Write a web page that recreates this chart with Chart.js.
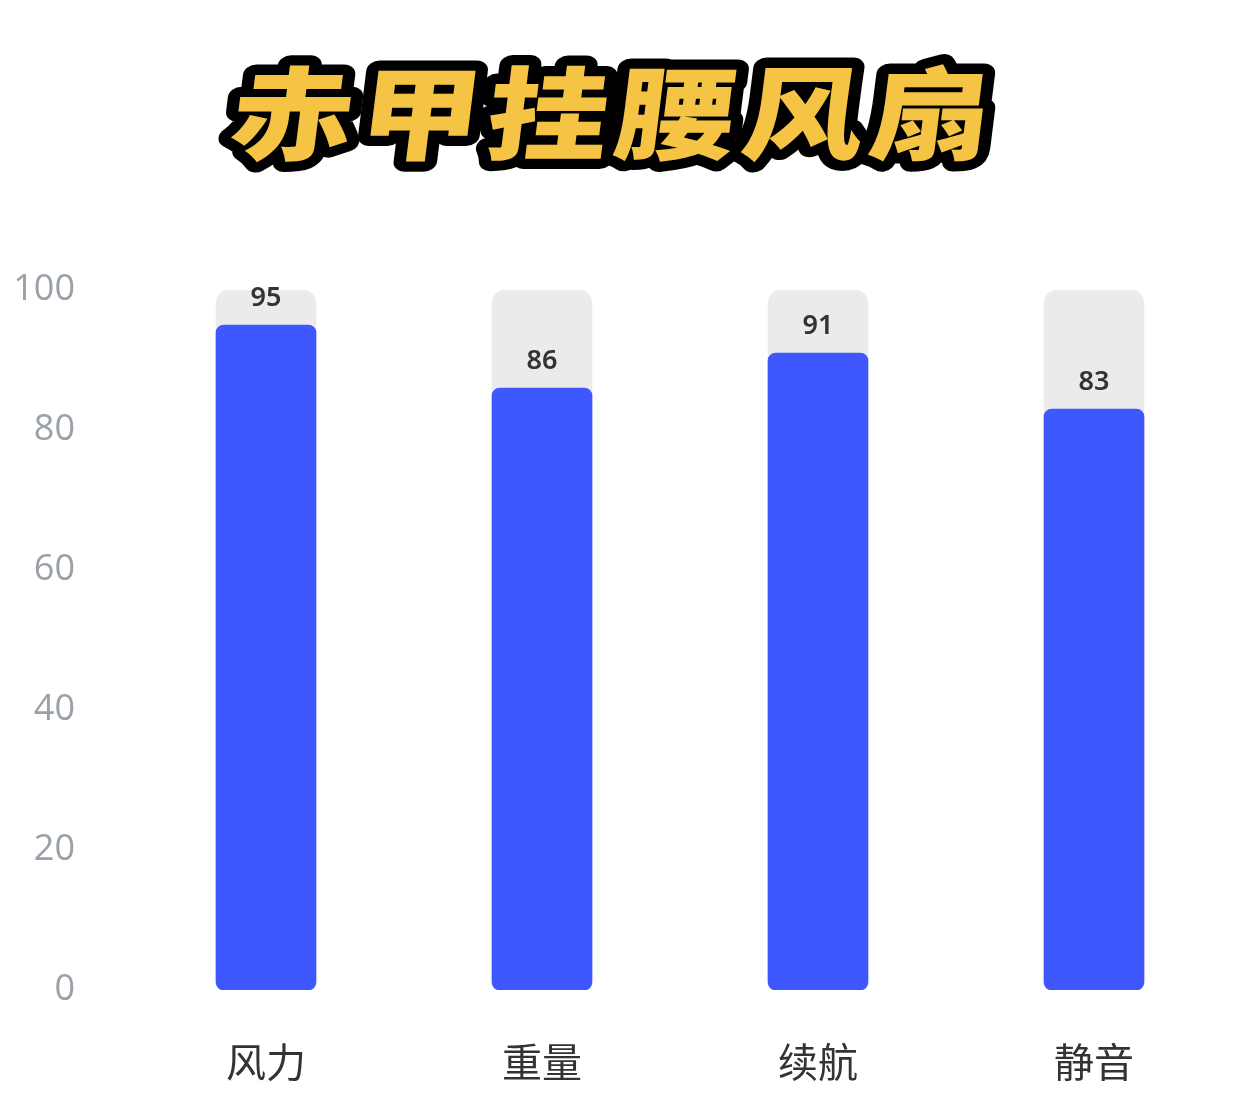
<!DOCTYPE html>
<html>
<head>
<meta charset="utf-8">
<script src="https://cdn.jsdelivr.net/npm/chart.js@4.4.0/dist/chart.umd.min.js"></script>
<style>
  html, body { margin: 0; padding: 0; background: #ffffff; }
  body { width: 1242px; height: 1095px; position: relative; overflow: hidden; }
  #title { position: absolute; left: 0; top: 0; width: 1242px; height: 200px; }
  #title text {
    font-family: "Noto Sans CJK SC", sans-serif; font-weight: 900; font-size: 118px;
    letter-spacing: 6px;
  }
  #wrap { position: absolute; left: 0; top: 0; width: 1242px; height: 1095px; }
</style>
</head>
<body>
<div id="wrap"><canvas id="c" width="1242" height="1095"></canvas></div>
<svg id="title" width="1242" height="200" xmlns="http://www.w3.org/2000/svg">
  <g transform="translate(615,118) scale(1.03,0.86) skewX(-6) translate(-610,-112)">
    <text x="610" y="152" text-anchor="middle" fill="#f6c445" stroke="#000" stroke-width="24"
          stroke-linejoin="round" paint-order="stroke fill">赤甲挂腰风扇</text>
  </g>
</svg>
<script>
const categories = ["风力", "重量", "续航", "静音"];
const scores = [95, 86, 91, 83];
const fullScores = [100, 100, 100, 100];
const yTicks = [0, 20, 40, 60, 80, 100];

const valueLabels = {
  id: "valueLabels",
  afterDatasetsDraw(chart) {
    const ctx = chart.ctx;
    const meta = chart.getDatasetMeta(0);
    ctx.save();
    ctx.font = "600 27px 'Noto Sans', 'Open Sans', sans-serif";
    ctx.fillStyle = "#333333";
    ctx.textAlign = "center";
    ctx.textBaseline = "middle";
    meta.data.forEach((bar, i) => {
      ctx.fillText(String(scores[i]), bar.x, bar.y - 27);
    });
    ctx.restore();
  }
};

new Chart(document.getElementById("c"), {
  type: "bar",
  data: {
    labels: categories,
    datasets: [
      {
        data: scores,
        backgroundColor: "#3f57fe",
        borderRadius: 8,
        borderSkipped: false,
        grouped: false,
        barThickness: 100,
        order: 0
      },
      {
        data: fullScores,
        backgroundColor: "#ebebeb",
        borderRadius: 14,
        borderSkipped: false,
        grouped: false,
        barThickness: 100,
        order: 1
      }
    ]
  },
  options: {
    responsive: false,
    animation: false,
    devicePixelRatio: 1,
    layout: { padding: { top: 290, right: 10, bottom: 0, left: 0 } },
    plugins: { legend: { display: false }, tooltip: { enabled: false }, title: { display: false } },
    scales: {
      x: {
        grid: { display: false, drawTicks: false },
        border: { display: false },
        ticks: {
          color: "#333333",
          font: { family: "'Noto Sans CJK SC', sans-serif", size: 40 },
          padding: 48
        },
        afterFit(scale) { scale.height = 105; }
      },
      y: {
        min: 0, max: 100,
        afterBuildTicks(scale) { scale.ticks = yTicks.map(v => ({ value: v })); },
        grid: { display: false, drawTicks: false },
        border: { display: false },
        ticks: {
          color: "#9aa0a8",
          font: { family: "'Open Sans', 'Noto Sans', sans-serif", size: 36, weight: 400 },
          padding: 53
        },
        afterFit(scale) { scale.width = 128; }
      }
    }
  },
  plugins: [valueLabels]
});
</script>
</body>
</html>
